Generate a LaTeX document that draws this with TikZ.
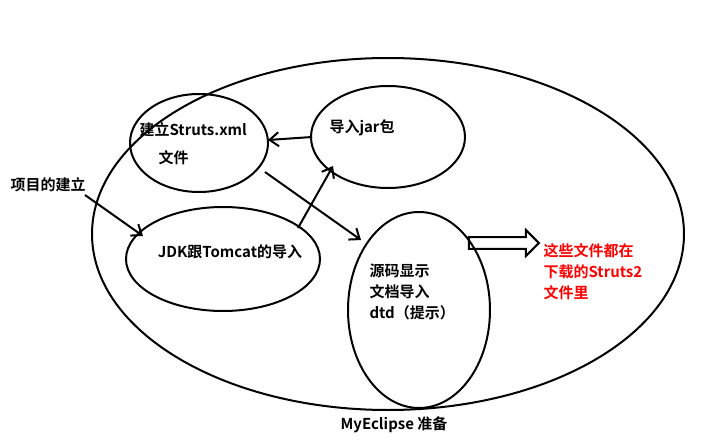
\documentclass[tikz,border=0pt]{standalone}
\usepackage{fontspec}
\setmainfont{Noto Sans CJK SC}[BoldFont={Noto Sans CJK SC Bold}]
\usetikzlibrary{arrows.meta,shapes.arrows}
\begin{document}
\begin{tikzpicture}[x=1pt,y=-1pt,
  lbl/.style={font=\bfseries\fontsize{15}{17}\selectfont,align=left},
  arr/.style={line width=2pt,-{Straight Barb[length=9pt,width=14pt]}}]
\useasboundingbox[fill=white] (0,0) rectangle (705,444);
\draw[line width=2pt] (388,234) ellipse[x radius=296,y radius=176];
\draw[line width=2pt] (199,143) ellipse[x radius=69,y radius=49];
\draw[line width=2pt] (388,137) ellipse[x radius=77,y radius=51];
\draw[line width=2pt] (223,259) ellipse[x radius=97,y radius=52];
\draw[line width=2pt] (419,310) ellipse[x radius=71,y radius=98];
\node[lbl,anchor=west] (s) at (136,130) {建立Struts.xml};
\node[lbl,anchor=west] (s2) at (155,158) {文件};
\node[lbl,anchor=west] (j) at (326,128) {导入jar包};
\node[lbl] (k) at (230,252) {JDK跟Tomcat的导入};
\node[lbl,anchor=west,align=left] (y) at (366,292) {源码显示\\[4pt]文档导入\\[4pt]dtd（提示）};
\node[lbl] (p) at (48,185) {项目的建立};
\node[lbl,text=red,anchor=west,align=left] (r) at (540,272) {这些文件都在\\[4pt]下载的Struts2\\[4pt]文件里};
\node[lbl] (t) at (394,425) {MyEclipse 准备};
\coordinate (jl) at (312,137); \coordinate (sr) at (268,140);
\coordinate (kt) at (298,228); \coordinate (jb) at (333,166);
\coordinate (sb) at (265,172); \coordinate (yt) at (361,240);
\coordinate (pa) at (85,195); \coordinate (kl) at (143,236);
\draw[arr] (jl) -- (sr);
\draw[arr] (kt) -- (jb);
\draw[arr] (sb) -- (yt);
\draw[arr] (pa) -- (kl);
\node[draw,line width=2pt,single arrow,minimum height=70pt,minimum width=26pt,single arrow head extend=5pt,single arrow head indent=0pt,inner sep=3pt] (ba) at (501,243) {};
\end{tikzpicture}
\end{document}
